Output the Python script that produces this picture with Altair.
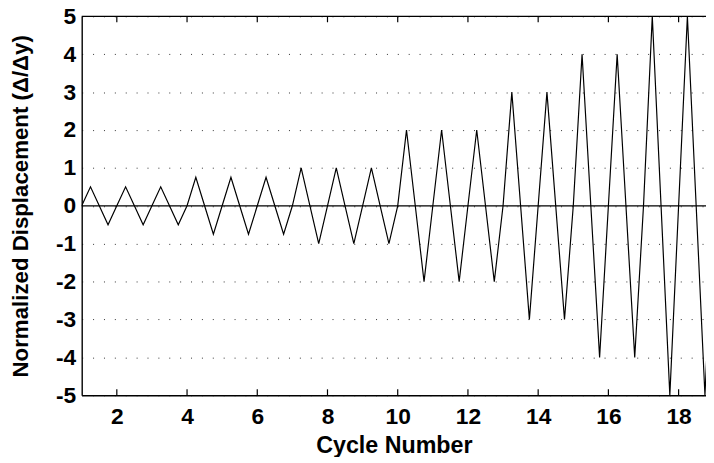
import altair as alt
import pandas as pd

# Cycle amplitudes (normalized displacement) for cycles 1..18
cycle_start = list(range(1, 19))
amplitudes = [0.5, 0.5, 0.5, 0.75, 0.75, 0.75, 1, 1, 1, 2, 2, 2, 3, 3, 4, 4, 5, 5]
phase = [0.0, 0.25, 0.5, 0.75]
phase_sign = [0, 1, 0, -1]

x_ticks = [2, 4, 6, 8, 10, 12, 14, 16, 18]
y_ticks = [-5, -4, -3, -2, -1, 0, 1, 2, 3, 4, 5]

rows = []
for c, a in zip(cycle_start, amplitudes):
    for p, s in zip(phase, phase_sign):
        rows.append({"x": c + p, "y": s * a})
rows.append({"x": cycle_start[-1] + 1, "y": 0})
df = pd.DataFrame(rows)

W, H = 631, 383
FONT = "Liberation Sans"

xscale = alt.Scale(domain=[1, 18.78], nice=False, zero=False)
yscale = alt.Scale(domain=[-5, 5], nice=False, zero=False)

line = alt.Chart(df).mark_line(color="black", strokeWidth=1.2, clip=True).encode(
    x=alt.X("x:Q", scale=xscale,
            axis=alt.Axis(values=x_ticks, title="Cycle Number", grid=False, ticks=False,
                          labelPadding=11, titlePadding=5, labelFlush=False,
                          labelOverlap=False, titleFontSize=23.5)),
    y=alt.Y("y:Q", scale=yscale,
            axis=alt.Axis(values=y_ticks, title="Normalized Displacement (Δ/Δy)", grid=True,
                          ticks=False, labelPadding=6, titlePadding=23,
                          labelOverlap=False, labelExpr="'' + datum.value",
                          titleFontSize=22.5)),
)

zero = alt.Chart(pd.DataFrame({"y": [0]})).mark_rule(color="black", strokeWidth=1.2).encode(
    y="y:Q"
)

tick_df = pd.DataFrame({"x": x_ticks})
bottom_ticks = alt.Chart(tick_df).mark_rule(color="black", strokeWidth=1.2).encode(
    x="x:Q", y=alt.value(H), y2=alt.value(H - 6)
)
top_ticks = alt.Chart(tick_df).mark_rule(color="black", strokeWidth=1.2).encode(
    x="x:Q", y=alt.value(0), y2=alt.value(6)
)
top_border = alt.Chart(pd.DataFrame({"a": [0]})).mark_rule(color="black", strokeWidth=1.4).encode(
    x=alt.value(0), x2=alt.value(W), y=alt.value(0)
)

chart = alt.layer(line, zero, bottom_ticks, top_ticks, top_border).properties(
    width=W, height=H,
    autosize=alt.AutoSizeParams(type="none"),
    padding={"left": 74.5, "top": 6, "right": 0, "bottom": 60},
).configure_view(stroke=None).configure_axis(
    labelFont=FONT, titleFont=FONT, labelFontSize=23, titleFontSize=23,
    labelFontWeight="bold", titleFontWeight="bold", labelColor="black", titleColor="black",
    domainColor="black", domainWidth=1.4, labelOverlap=False,
    gridColor="#333333", gridDash=[1, 10], gridWidth=1, gridOpacity=1,
).configure_axisY(labelOverlap=False, tickCount=11)

chart.save("out.html", embed_options={"renderer": "svg", "actions": False})
